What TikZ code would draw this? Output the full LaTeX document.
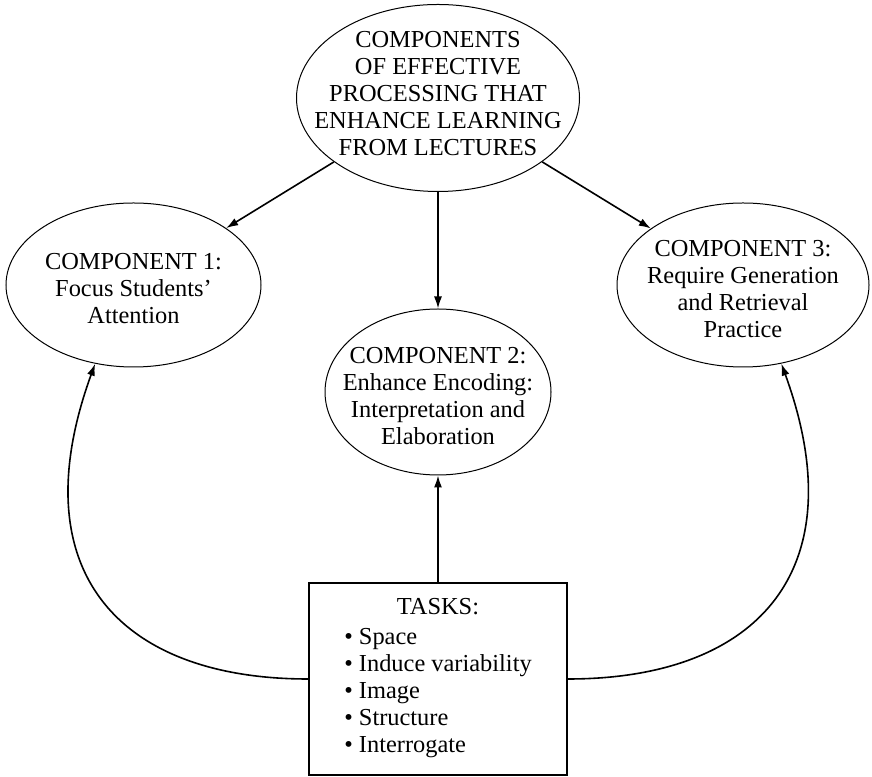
\documentclass[tikz,border=0pt]{standalone}
\usepackage{fontspec}
\setmainfont{Liberation Serif}
\usetikzlibrary{shapes.geometric,arrows.meta}
\begin{document}
\begin{tikzpicture}[x=0.5pt,y=0.5pt,font=\fontsize{12.2}{13.5}\selectfont,
  comp/.style={draw,ellipse,line width=0.5pt,inner sep=0pt},
  txt/.style={align=center,inner sep=0pt},
  taskbox/.style={draw,rectangle,line width=0.8pt,minimum width=129pt,minimum height=96pt},
  link/.style={line width=0.8pt,-{Latex[length=6pt,width=4pt]}}]
\useasboundingbox (0,0) rectangle (872,776);
\node[comp,minimum width=141.5pt,minimum height=93.5pt] (main) at (438,678) {};
\node[comp,minimum width=127.5pt,minimum height=82pt] (c1) at (133.5,491) {};
\node[comp,minimum width=113pt,minimum height=83pt] (c2) at (438,384) {};
\node[comp,minimum width=126pt,minimum height=82pt] (c3) at (743,491) {};
\node[taskbox] (tasks) at (438,97) {};
\node[txt] (maintext) at (438,682) {COMPONENTS\\OF EFFECTIVE\\PROCESSING THAT\\ENHANCE LEARNING\\FROM LECTURES};
\node[txt] (c1text) at (133.5,487) {COMPONENT 1:\\Focus Students’\\Attention};
\node[txt] (c2text) at (438,380) {COMPONENT 2:\\Enhance Encoding:\\Interpretation and\\Elaboration};
\node[txt] (c3text) at (743,487) {COMPONENT 3:\\Require Generation\\and Retrieval\\Practice};
\node[txt] (taskstext) at (tasks) {TASKS:\\[1.5pt]\begin{tabular}[t]{@{}l@{}}\textbullet\ Space\\\textbullet\ Induce variability\\\textbullet\ Image\\\textbullet\ Structure\\\textbullet\ Interrogate\end{tabular}};
\draw[link] (main) -- (c1);
\draw[link] (main) -- (c2);
\draw[link] (main) -- (c3);
\draw[link] (tasks) -- (c2);
\draw[link] (tasks.west) .. controls +(180:190) and +(-110:220) .. (c1.-116);
\draw[link] (tasks.east) .. controls +(0:190) and +(-70:220) .. (c3.-64);
\end{tikzpicture}
\end{document}
